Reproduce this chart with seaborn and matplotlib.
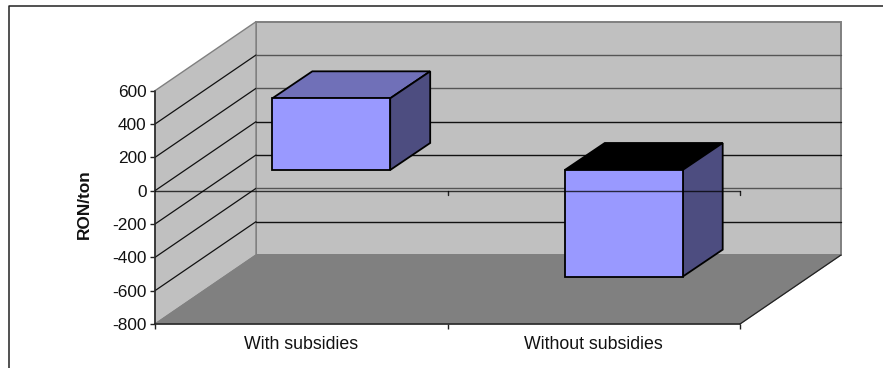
import matplotlib
matplotlib.use("Agg")
import matplotlib.pyplot as plt
import seaborn as sns
from matplotlib.patches import Polygon
from matplotlib.transforms import ScaledTranslation

categories = ["With subsidies", "Without subsidies"]
values = [430, -640]
y_ticks = [600, 400, 200, 0, -200, -400, -600, -800]
y_label = "RON/ton"

sns.set_style("white")
plt.rcParams["font.family"] = ["Liberation Sans", "DejaVu Sans"]

DPI = 100
fig = plt.figure(figsize=(8.83, 3.68), dpi=DPI)
W, H = 883, 368
ax = fig.add_axes([155 / W, (H - 324) / H, 585 / W, 233.3 / H])

sns.barplot(x=categories, y=values, ax=ax, width=0.403, color="#9999FF",
            saturation=1, edgecolor="black", linewidth=1.3, zorder=6)
ax.set_xlim(-0.5, 1.5)
ax.set_ylim(-800, 600)


def depth(dx, dy):
    """Data transform moved back into the chart by dx, dy pixels."""
    return ax.transData + ScaledTranslation(dx / DPI, dy / DPI, fig.dpi_scale_trans)


WALL_DX, WALL_DY = 101, 69
BAR_DX0, BAR_DY0 = 30, 20.7
BAR_DX1, BAR_DY1 = 70, 47.7
x0, x1 = ax.get_xlim()
y0, y1 = ax.get_ylim()


def poly(pts_a, pts_b, trans_a, trans_b, **kw):
    """Quad whose first edge lies on one depth plane and second edge on another."""
    quad = list(trans_a.transform(pts_a)) + list(trans_b.transform(pts_b))
    p = Polygon(quad, closed=True, transform=None, clip_on=False, **kw)
    ax.add_artist(p)
    return p


def segment(p, q, color, width, zorder=3):
    ax.add_artist(plt.Line2D([p[0], q[0]], [p[1], q[1]], transform=None, color=color,
                             linewidth=width, clip_on=False, zorder=zorder))


front = depth(0, 0)
wall = depth(WALL_DX, WALL_DY)
fig.canvas.draw()

# back wall, side wall and floor
poly([(x0, y0), (x1, y0)], [(x1, y1), (x0, y1)], wall, wall,
     facecolor="#C0C0C0", edgecolor="#808080", linewidth=1.4, zorder=1)
poly([(x0, y0), (x0, y1)], [(x0, y1), (x0, y0)], front, wall,
     facecolor="#C0C0C0", edgecolor="#808080", linewidth=1.0, zorder=1)
poly([(x0, y0), (x1, y0)], [(x1, y0), (x0, y0)], front, wall,
     facecolor="#808080", edgecolor="#808080", linewidth=0.8, zorder=2)

# gridlines running along the side wall and across the back wall
back_colors = {400: "#555555", 200: "#555555", 0: "#111111",
               -200: "#111111", -400: "#555555", -600: "#111111"}
for t in y_ticks[1:-1]:
    a = front.transform((x0, t))
    b = wall.transform((x0, t))
    c = wall.transform((x1, t))
    segment(a, b, "#111111", 0.9)
    segment(b, c, back_colors[t], 1.0)

# right-hand edge of the floor
segment(front.transform((x1, y0)), wall.transform((x1, y0)), "#222222", 0.9)

# seaborn's bars become the front faces; add top and side faces behind them
bar_front = depth(BAR_DX0, BAR_DY0)
bar_back = depth(BAR_DX1, BAR_DY1)
top_colors = ["#7070B8", "#000000"]
for bar, top_color in zip(ax.patches, top_colors):
    bar.set_transform(bar_front)
    bar.set_clip_on(False)
    bx0, bx1 = bar.get_x(), bar.get_x() + bar.get_width()
    lo = min(bar.get_y(), bar.get_y() + bar.get_height())
    hi = max(bar.get_y(), bar.get_y() + bar.get_height())
    poly([(bx0, hi), (bx1, hi)], [(bx1, hi), (bx0, hi)], bar_front, bar_back,
         facecolor=top_color, edgecolor="black", linewidth=1.3, zorder=5)
    poly([(bx1, lo), (bx1, hi)], [(bx1, hi), (bx1, lo)], bar_front, bar_back,
         facecolor="#4D4D80", edgecolor="black", linewidth=1.3, zorder=5)

# axis lines and ticks
for side in ["top", "right"]:
    ax.spines[side].set_visible(False)
for side in ["left", "bottom"]:
    ax.spines[side].set_color("#222222")
    ax.spines[side].set_linewidth(1.1)
    ax.spines[side].set_zorder(4)

ax.axhline(0, color="black", linewidth=1.0, alpha=0.75, zorder=7, clip_on=False)
for pos in [0.5, 1.5]:
    ax.plot([pos, pos], [0, -24], color="#222222", linewidth=1.0, zorder=4, clip_on=False)

ax.set_yticks(y_ticks)
ax.set_yticklabels([str(t) for t in y_ticks])
ax.set_xticks([0, 1])
ax.set_xticklabels(categories)
ax.set_xticks([-0.5, 0.5, 1.5], minor=True)
ax.tick_params(axis="y", which="major", left=True, length=3.6, width=1.0, color="#222222",
               labelsize=12.4, pad=2.5, labelcolor="#111111")
ax.tick_params(axis="x", which="major", bottom=False, labelsize=12.8, pad=5, labelcolor="#111111")
ax.tick_params(axis="x", which="minor", bottom=True, length=3.6, width=1.0, color="#222222")
ax.set_ylabel(y_label, fontsize=12.4, fontweight="bold", color="#111111", labelpad=14.5, y=0.512)
ax.patch.set_visible(False)

# chart frame: left and top edges
fig.add_artist(plt.Line2D([8.5 / W, 8.5 / W, 1], [0, (H - 6) / H, (H - 6) / H],
                          transform=fig.transFigure, color="#222222", linewidth=1.1))

fig.savefig("out.png", dpi=DPI)
